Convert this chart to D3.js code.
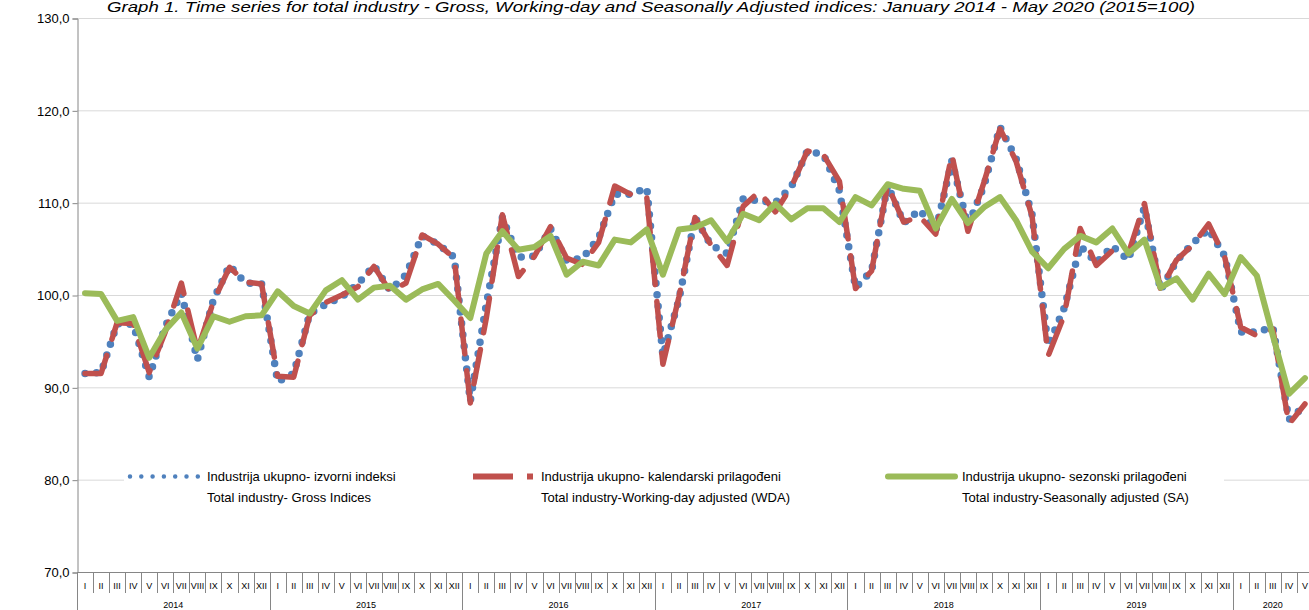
<!DOCTYPE html>
<html><head><meta charset="utf-8">
<script src="https://cdn.jsdelivr.net/npm/d3@7/dist/d3.min.js"></script>
<style>html,body{margin:0;padding:0;background:#fff;overflow:hidden}svg{display:block}</style>
</head><body>
<svg id="c" width="1309" height="610"></svg>
<script>
const monthLabels = ["I","II","III","IV","V","VI","VII","VIII","IX","X","XI","XII"];
const years = ["2014","2015","2016","2017","2018","2019","2020"];
const yTicks = [70,80,90,100,110,120,130];
const titleText = "Graph 1. Time series for total industry - Gross, Working-day and Seasonally Adjusted indices: January 2014 - May 2020 (2015=100)";
const legendLines = [
  ["Industrija ukupno- izvorni indeksi","Total industry- Gross Indices"],
  ["Industrija ukupno- kalendarski prilagođeni","Total industry-Working-day adjusted (WDA)"],
  ["Industrija ukupno- sezonski prilagođeni","Total industry-Seasonally adjusted (SA)"]
];
// Jan 2014 .. May 2020 (77 months)
const gross = [
 91.5,91.6,96.9,96.8,91.1,96.6,100.2,93.0,99.5,103.2,101.3,101.2,
 90.6,91.5,98.0,99.0,99.8,101.2,103.2,100.5,102.2,106.4,105.5,104.1,
 88.5,99.0,108.4,104.1,104.2,107.2,103.7,104.0,106.2,110.9,110.9,111.6,
 93.4,99.5,108.4,105.4,104.5,110.4,110.2,110.0,111.7,115.6,115.2,111.3,
 100.8,102.6,111.9,107.8,109.2,107.0,114.5,107.5,111.8,118.2,114.8,108.7,
 94.5,98.6,105.3,103.5,105.3,103.8,109.5,100.5,103.7,105.6,107.1,104.2,
 96.0,96.0,96.5,86.5,88.0];
const wda = [
 91.5,91.5,97.0,96.9,91.6,96.0,101.3,94.0,99.3,103.0,101.4,101.2,
 91.2,91.1,97.8,99.2,100.0,100.9,103.1,100.4,101.3,106.5,105.5,104.0,
 88.3,97.5,108.7,102.0,104.2,107.4,104.0,103.3,105.7,111.8,110.9,110.5,
 92.5,99.8,108.4,105.4,103.2,109.6,111.2,109.0,111.7,115.6,115.2,112.3,
 100.7,102.6,111.9,107.9,108.5,106.6,115.2,106.9,112.2,118.0,114.5,108.5,
 93.4,97.8,107.2,103.2,104.8,104.5,109.9,100.6,103.8,105.4,107.7,104.1,
 96.5,95.6,96.3,86.0,88.2];
const sa = [
 100.2,100.1,97.2,97.6,93.2,96.2,98.1,94.2,97.7,97.1,97.7,97.8,
 100.4,98.8,98.0,100.5,101.6,99.5,100.8,101.0,99.5,100.6,101.2,99.4,
 97.5,104.5,106.9,104.9,105.2,106.4,102.2,103.6,103.2,106.0,105.7,107.1,
 102.2,107.1,107.3,108.1,105.8,108.8,108.1,109.9,108.2,109.4,109.4,107.9,
 110.6,109.7,112.0,111.5,111.3,107.2,110.4,107.8,109.5,110.6,108.1,104.7,
 102.9,105.0,106.4,105.7,107.2,104.5,106.0,100.8,101.8,99.5,102.3,100.1,
 104.1,102.1,95.6,89.3,91.0];

const N = gross.length;
const svg = d3.select("#c");
const font = "'Liberation Sans', Arial, sans-serif";
const x = d3.scaleBand().domain(d3.range(N)).range([77, 1313]).padding(0);
const y = d3.scaleLinear().domain([70,130]).range([572, 18]);
const cx = i => x(i) + x.bandwidth()/2;

// title
svg.append("text").attr("x", 651).attr("y", 12).attr("text-anchor","middle")
  .attr("font-family", font).attr("font-style","italic").attr("font-size", 14)
  .attr("fill","#000").attr("textLength", 1088).attr("lengthAdjust","spacingAndGlyphs")
  .text(titleText);

// gridlines
svg.append("g").selectAll("line").data(yTicks.filter(t => t > 70)).join("line")
  .attr("x1", 77).attr("x2", 1309).attr("y1", d => y(d)+0.5).attr("y2", d => y(d)+0.5)
  .attr("stroke", "#d9d9d9").attr("stroke-width", 1);

// y axis
const ya = svg.append("g").attr("transform","translate(77.5,0.5)")
  .call(d3.axisLeft(y).tickValues(yTicks).tickSize(5).tickPadding(3)
        .tickFormat(d => d.toFixed(1).replace(".", ",")));
ya.select(".domain").attr("stroke","#868686");
ya.selectAll(".tick line").attr("stroke","#868686");
ya.selectAll(".tick text").attr("font-family", font).attr("font-size", 13).attr("fill","#000");

// x axis (two-level categories)
const xg = svg.append("g");
xg.append("line").attr("x1",77).attr("x2",1313).attr("y1",572.5).attr("y2",572.5).attr("stroke","#868686");
xg.selectAll("line.sep").data(d3.range(N)).join("line").attr("class","sep")
  .attr("x1", i => Math.round(x(i))+0.5).attr("x2", i => Math.round(x(i))+0.5)
  .attr("y1", 572).attr("y2", i => i % 12 === 0 ? 610 : 593)
  .attr("stroke","#868686").attr("stroke-width",1);
xg.selectAll("text.m").data(d3.range(N)).join("text").attr("class","m")
  .attr("x", i => cx(i)).attr("y", 589).attr("text-anchor","middle")
  .attr("font-family", font).attr("font-size", 9).attr("fill","#000")
  .text(i => monthLabels[i % 12]);
xg.selectAll("text.yr").data(years).join("text").attr("class","yr")
  .attr("x", (d,k) => { const a = x(k*12); const b = k*12+12 <= N ? x(k*12+11)+x.bandwidth() : x(N-1)+x.bandwidth(); return (a+b)/2; })
  .attr("y", 608).attr("text-anchor","middle")
  .attr("font-family", font).attr("font-size", 9).attr("fill","#000")
  .text(d => d);

// legend background
svg.append("rect").attr("x",124).attr("y",465).attr("width",1100).attr("height",44).attr("fill","#fff");

// series
const line = d3.line().x((d,i) => cx(i)).y(d => y(d));
const styles = [
  {data: gross, color:"#4f81bd", width:7.5, dash:"0 11.5", cap:"round"},
  {data: wda,   color:"#c0504d", width:5.5, dash:"35 17",  cap:"round"},
  {data: sa,    color:"#9bbb59", width:6,   dash:null,     cap:"round"}
];
styles.forEach(s => {
  const p = svg.append("path").datum(s.data).attr("d", line)
    .attr("fill","none").attr("stroke", s.color).attr("stroke-width", s.width)
    .attr("stroke-linejoin","round").attr("stroke-linecap", s.cap);
  if (s.dash) p.attr("stroke-dasharray", s.dash);
});

// legend
const legX = [[130,199,207],[473,533,541],[888,955,962]];
styles.forEach((s,k) => {
  const [a,b,t] = legX[k];
  const l = svg.append("line").attr("x1",a).attr("x2",b).attr("y1",476.5).attr("y2",476.5)
    .attr("stroke", s.color).attr("stroke-width", k===0 ? 4.5 : s.width).attr("stroke-linecap", s.cap);
  if (k===0) l.attr("stroke-dasharray","0 11.3");
  if (k===1) l.attr("stroke-dasharray","40 14").attr("stroke-linecap","butt").attr("stroke-width",6);
  svg.append("text").attr("x", t).attr("y", 481).attr("font-family", font).attr("font-size", 13)
    .attr("fill","#000").text(legendLines[k][0]);
  svg.append("text").attr("x", t).attr("y", 502).attr("font-family", font).attr("font-size", 13)
    .attr("fill","#000").text(legendLines[k][1]);
});
</script>
</body></html>
